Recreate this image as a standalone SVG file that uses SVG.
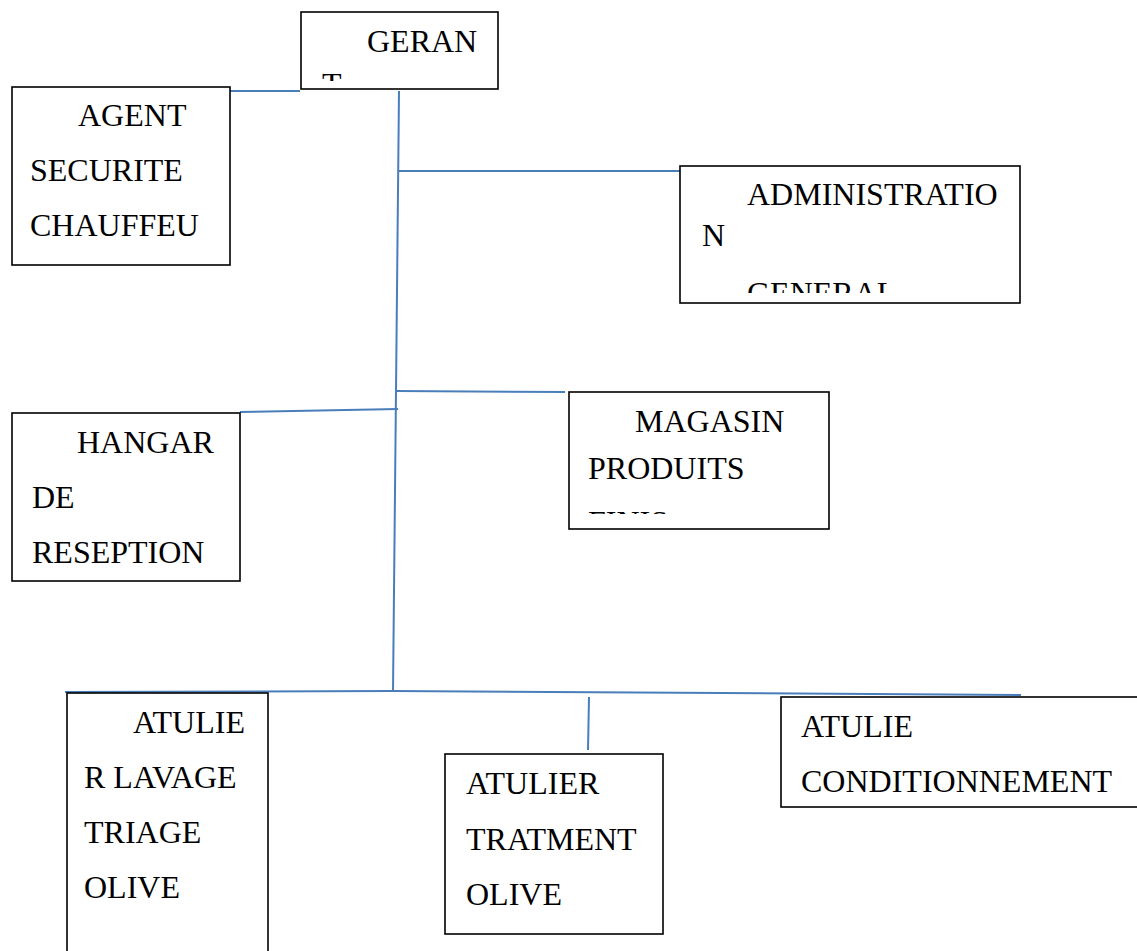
<svg xmlns="http://www.w3.org/2000/svg" width="1137" height="951" viewBox="0 0 1137 951">
<style>
.box{fill:#fff;stroke:#000;stroke-width:1.6}
text{font-family:'Liberation Serif','Times New Roman',Times,serif;font-size:32px;fill:#000}
.con{stroke:#4a7ebb;stroke-width:2;fill:none}
</style>
<defs>
<clipPath id="cGer"><rect x="302" y="13" width="195" height="68"/></clipPath>
<clipPath id="cAdm"><rect x="681" y="167" width="338" height="126"/></clipPath>
<clipPath id="cMag"><rect x="570" y="393" width="258" height="121"/></clipPath>
</defs>
<g id="connectors">
<line class="con" x1="230" y1="91" x2="300" y2="91"/>
<line class="con" x1="399" y1="91" x2="393" y2="692"/>
<line class="con" x1="399" y1="171" x2="680" y2="171"/>
<line class="con" x1="397" y1="391" x2="565" y2="392"/>
<line class="con" x1="240" y1="412" x2="398" y2="409"/>
<line class="con" x1="65" y1="692" x2="393" y2="691"/>
<line class="con" x1="393" y1="691" x2="1021" y2="695"/>
<line class="con" x1="589" y1="697" x2="588" y2="750"/>
</g>
<g id="gerant">
<rect class="box" x="301" y="12" width="197" height="77"/>
<g clip-path="url(#cGer)">
<text x="367" y="52">GERAN</text>
<text x="322" y="95">T</text>
</g>
</g>
<g id="agent">
<rect class="box" x="12" y="87" width="218" height="178"/>
<text x="78" y="126">AGENT</text>
<text x="30" y="181">SECURITE</text>
<text x="30" y="236">CHAUFFEU</text>
</g>
<g id="administration">
<rect class="box" x="680" y="166" width="340" height="137"/>
<g clip-path="url(#cAdm)">
<text x="747" y="205">ADMINISTRATIO</text>
<text x="702" y="246">N</text>
<text x="747" y="304">GENERAL</text>
</g>
</g>
<g id="hangar">
<rect class="box" x="12" y="413" width="228" height="168"/>
<text x="77" y="453">HANGAR</text>
<text x="32" y="508">DE</text>
<text x="32" y="563">RESEPTION</text>
</g>
<g id="magasin">
<rect class="box" x="569" y="392" width="260" height="137"/>
<g clip-path="url(#cMag)">
<text x="635" y="432">MAGASIN</text>
<text x="588" y="479">PRODUITS</text>
<text x="588" y="533">FINIS</text>
</g>
</g>
<g id="atelier-lavage">
<rect class="box" x="67" y="693" width="201" height="270"/>
<text x="133" y="733">ATULIE</text>
<text x="84" y="788">R LAVAGE</text>
<text x="84" y="843">TRIAGE</text>
<text x="84" y="898">OLIVE</text>
</g>
<g id="atelier-traitement">
<rect class="box" x="445" y="754" width="218" height="180"/>
<text x="466" y="794">ATULIER</text>
<text x="466" y="850">TRATMENT</text>
<text x="466" y="905">OLIVE</text>
</g>
<g id="atelier-conditionnement">
<rect class="box" x="781" y="697" width="370" height="110"/>
<text x="801" y="737">ATULIE</text>
<text x="801" y="792">CONDITIONNEMENT</text>
</g>
</svg>
